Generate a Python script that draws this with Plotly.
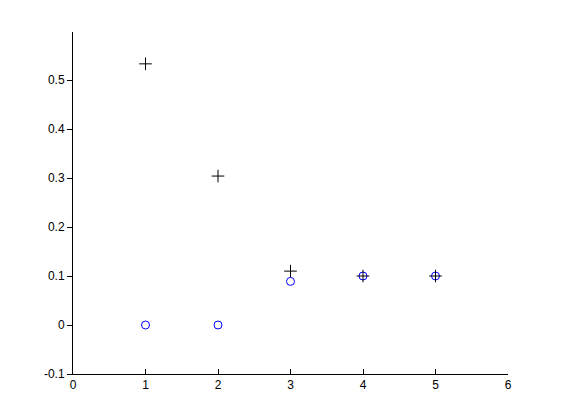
import plotly.graph_objects as go

x = [1, 2, 3, 4, 5]
plus_y = [0.533, 0.304, 0.110, 0.100, 0.100]
circle_y = [0.000, 0.000, 0.089, 0.100, 0.100]

fig = go.Figure()
fig.add_trace(go.Scatter(x=x, y=circle_y, mode='markers',
                         marker=dict(symbol='circle-open', size=8, color='#0000ff',
                                     line=dict(width=1, color='#0000ff'))))
fig.add_trace(go.Scatter(x=x, y=plus_y, mode='markers',
                         marker=dict(symbol='cross-thin-open', size=9, color='black',
                                     line=dict(width=1, color='black'))))

# page body adds 8px offset, so margins are shifted by that much
fig.update_layout(
    width=561, height=420,
    template='plotly_white',
    showlegend=False,
    paper_bgcolor='white', plot_bgcolor='white',
    margin=dict(l=65, r=61, t=24, b=54),
    font=dict(family='Liberation Sans, Arial, sans-serif', size=12, color='black'),
    xaxis=dict(range=[0, 6], tickvals=[0, 1, 2, 3, 4, 5, 6], showgrid=False, zeroline=False,
               showline=True, linecolor='black', linewidth=1, ticks='inside', ticklen=5,
               tickcolor='black', mirror=False),
    yaxis=dict(range=[-0.1, 0.598], tickvals=[-0.1, 0, 0.1, 0.2, 0.3, 0.4, 0.5],
               ticktext=['-0.1', '0', '0.1', '0.2', '0.3', '0.4', '0.5'],
               showgrid=False, zeroline=False, showline=True, linecolor='black', linewidth=1,
               ticks='outside', ticklen=5, tickcolor='black'),
)

fig.write_html("out.html")
